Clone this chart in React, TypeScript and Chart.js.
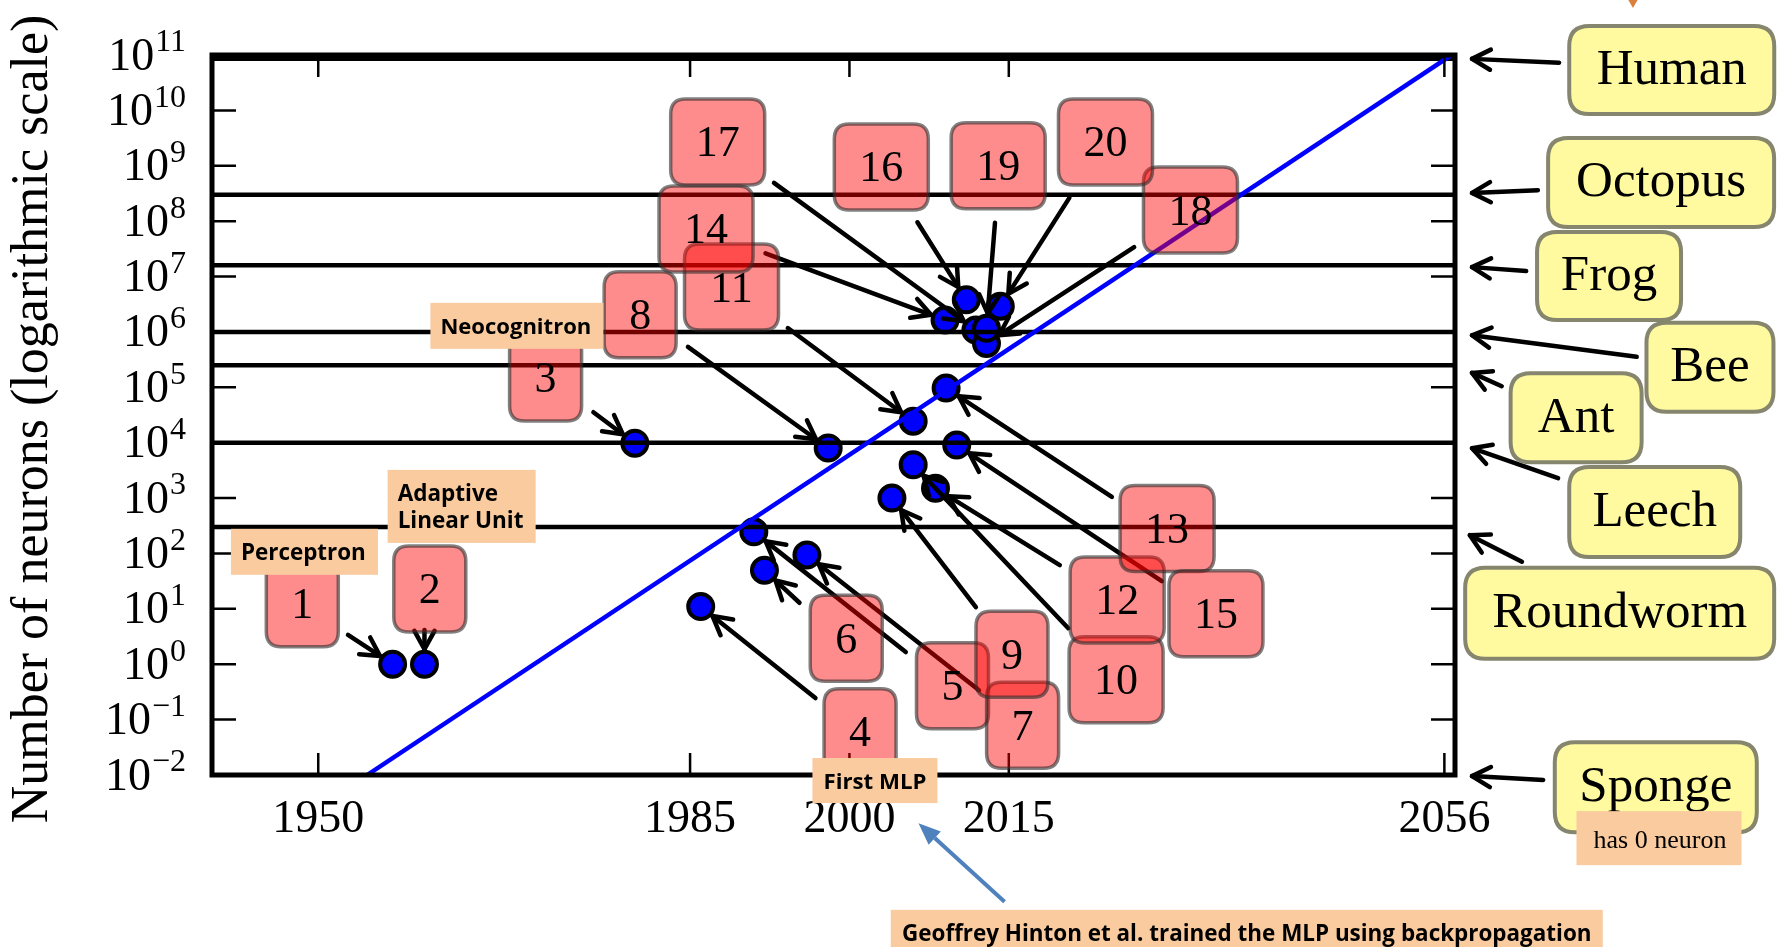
import React, { useEffect, useRef } from "react";
import { Chart, registerables } from "chart.js";

Chart.register(...registerables);

// ---------------- data ----------------
const NETWORK_IDS = [1, 2, 3, 4, 5, 6, 7, 8, 9, 10, 11, 12, 13, 14, 15, 16, 17, 18, 19, 20];
const NETWORK_YEARS = [1957, 1960, 1979.8, 1986, 1991, 1992, 1996, 1998, 2004, 2006, 2006, 2008.1, 2009.1, 2009, 2010.1, 2011, 2011.9, 2012.9, 2012.9, 2014.2];
const NETWORK_NEURONS = [1, 1, 9.8e3, 11, 246, 50, 94, 8.0e3, 1.0e3, 4.0e3, 2.45e4, 1.5e3, 9.7e4, 1.64e6, 9.1e3, 3.8e6, 1.08e6, 6.2e5, 1.16e6, 2.9e6];

const ANIMAL_NAMES = ["Human", "Octopus", "Frog", "Bee", "Ant", "Leech", "Roundworm", "Sponge"];
// Sponge has 0 neurons: no reference line, its arrow points at the axis floor
const ANIMAL_NEURONS = [8.6e10, 3e8, 1.6e7, 1e6, 2.5e5, 1e4, 302];

const X_TICKS = [1950, 1985, 2000, 2015, 2056];
const Y_TICK_EXPONENTS = [-2, -1, 0, 1, 2, 3, 4, 5, 6, 7, 8, 9, 10, 11];
const X_MIN = 1940;
const X_MAX = 2057;
const Y_MIN = 1e-2;
const Y_MAX = 1e11;

const TREND_YEARS = [1954.6, 2057];
const TREND_NEURONS = [1e-2, 1.1e11];

const Y_TITLE = "Number of neurons (logarithmic scale)";

// ---------------- annotation layout (data space: [year, log10(neurons)]) ----------------
const LABEL_POS: [number, number][] = [
  [1948.5, 1.09], [1960.5, 1.36], [1971.4, 5.17], [2001.0, -1.22], [2009.7, -0.39],
  [1999.7, 0.47], [2016.3, -1.1], [1980.3, 6.31], [2015.3, 0.18], [2025.1, -0.28],
  [1988.9, 6.81], [2025.2, 1.16], [2029.9, 2.45], [1986.5, 7.86], [2034.5, 0.91],
  [2003.0, 8.98], [1987.6, 9.43], [2032.1, 8.2], [2014.0, 9.0], [2024.1, 9.43],
];
const ARROW_TAIL: [number, number][] = [
  [1952.8, 0.53], [1960.0, 0.62], [1975.9, 4.55], [1996.8, -0.61], [2005.3, 0.22],
  [1995.3, 1.11], [2012.2, -0.47], [1984.8, 5.73], [2011.9, 1.03], [2020.6, 0.65],
  [1994.2, 6.07], [2019.8, 1.79], [2024.7, 3.02], [1992.1, 7.42], [2029.4, 1.5],
  [2006.4, 7.98], [1992.9, 8.69], [2026.8, 7.53], [2013.7, 7.97], [2020.7, 8.42],
];

const ANIMAL_LABEL_POS: [number, number][] = [
  [2077.4, 10.73], [2076.4, 8.7], [2071.5, 7.01], [2081.0, 5.36],
  [2068.4, 4.45], [2075.8, 2.75], [2072.5, 0.92], [2075.9, -2.22],
];
const ANIMAL_BOX_SIZE: [number, number][] = [
  [205, 88], [226, 89], [144, 88], [127, 89], [131, 89], [171, 90], [309, 91], [202, 90],
];
const ANIMAL_ARROW_TAIL: [number, number][] = [
  [2066.8, 10.86], [2064.8, 8.56], [2063.7, 7.1], [2074.1, 5.55],
  [2061.4, 5.02], [2066.7, 3.36], [2063.3, 1.85], [2065.3, -2.09],
];
const ANIMAL_ARROW_TIP: [number, number][] = [
  [2058.6, 10.93], [2058.6, 8.51], [2058.6, 7.17], [2058.6, 5.94],
  [2058.6, 5.26], [2058.6, 3.9], [2058.4, 2.33], [2058.6, -2.02],
];

type Callout = { lines: string[]; pos: [number, number]; w: number; h: number; align: "left" | "center" };
const CALLOUTS: Callout[] = [
  { lines: ["Perceptron"], pos: [1948.7, 2.03], w: 147, h: 46, align: "left" },
  { lines: ["Adaptive", "Linear Unit"], pos: [1963.5, 2.85], w: 148, h: 73, align: "left" },
  { lines: ["Neocognitron"], pos: [1968.7, 6.11], w: 173, h: 46, align: "left" },
  { lines: ["First MLP"], pos: [2002.4, -2.1], w: 125, h: 45, align: "center" },
  { lines: ["Geoffrey Hinton et al. trained the MLP using backpropagation"], pos: [2037.4, -4.85], w: 712, h: 46, align: "center" },
];
const SPONGE_NOTE = "has 0 neuron";
const SPONGE_NOTE_POS: [number, number] = [2076.2, -3.14];
const HINTON_ARROW_TAIL: [number, number] = [2014.6, -4.29];
const HINTON_ARROW_TIP: [number, number] = [2006.5, -2.87];
const TOP_ARROW_TIP: [number, number] = [2073.75, 11.85];

const SERIF = '"Liberation Serif", "Times New Roman", serif';
const SANS = '"Open Sans", "Noto Sans", sans-serif';

function rr(ctx: CanvasRenderingContext2D, x: number, y: number, w: number, h: number, r: number) {
  ctx.beginPath();
  ctx.moveTo(x + r, y);
  ctx.lineTo(x + w - r, y);
  ctx.quadraticCurveTo(x + w, y, x + w, y + r);
  ctx.lineTo(x + w, y + h - r);
  ctx.quadraticCurveTo(x + w, y + h, x + w - r, y + h);
  ctx.lineTo(x + r, y + h);
  ctx.quadraticCurveTo(x, y + h, x, y + h - r);
  ctx.lineTo(x, y + r);
  ctx.quadraticCurveTo(x, y, x + r, y);
  ctx.closePath();
}

function arrow(ctx: CanvasRenderingContext2D, x1: number, y1: number, x2: number, y2: number, shrink: number) {
  const dx = x2 - x1, dy = y2 - y1;
  const d = Math.hypot(dx, dy);
  const tx = x2 - (dx / d) * shrink, ty = y2 - (dy / d) * shrink;
  ctx.beginPath();
  ctx.moveTo(x1, y1);
  ctx.lineTo(tx, ty);
  ctx.stroke();
  const back = Math.atan2(y1 - y2, x1 - x2);
  const len = 21, spread = 0.5;
  ctx.beginPath();
  ctx.moveTo(tx + len * Math.cos(back + spread), ty + len * Math.sin(back + spread));
  ctx.lineTo(tx, ty);
  ctx.lineTo(tx + len * Math.cos(back - spread), ty + len * Math.sin(back - spread));
  ctx.stroke();
}

const overlayPlugin = {
  id: "neuronOverlay",
  afterDatasetsDraw(chart: any) {
    const ctx: CanvasRenderingContext2D = chart.ctx;
    const xs = chart.scales.x;
    const ys = chart.scales.y;
    const px = (v: number) => xs.getPixelForValue(v);
    const py = (v: number) => ys.getPixelForValue(v);
    const pl = (lg: number) => ys.getPixelForValue(Math.pow(10, lg));
    const { left, right, top, bottom } = chart.chartArea;

    ctx.save();
    ctx.lineJoin = "round";
    ctx.lineCap = "round";

    // inward ticks
    ctx.strokeStyle = "#000";
    ctx.lineWidth = 2.5;
    ctx.lineCap = "butt";
    Y_TICK_EXPONENTS.forEach((e) => {
      const y = py(Math.pow(10, e));
      ctx.beginPath();
      ctx.moveTo(left, y); ctx.lineTo(left + 24, y);
      ctx.moveTo(right, y); ctx.lineTo(right - 24, y);
      ctx.stroke();
    });
    X_TICKS.forEach((t) => {
      const x = px(t);
      ctx.beginPath();
      ctx.moveTo(x, bottom); ctx.lineTo(x, bottom - 22);
      ctx.moveTo(x, top); ctx.lineTo(x, top + 22);
      ctx.stroke();
    });

    // arrows from numbered labels to networks
    ctx.lineCap = "round";
    ctx.lineWidth = 4.5;
    NETWORK_IDS.forEach((id, i) => {
      const [tx, tl] = ARROW_TAIL[i];
      arrow(ctx, px(tx), pl(tl), px(NETWORK_YEARS[i]), py(NETWORK_NEURONS[i]), 15);
    });

    // numbered label boxes
    NETWORK_IDS.forEach((id, i) => {
      const [bx, bl] = LABEL_POS[i];
      const cx = px(bx), cy = pl(bl);
      const w = id >= 10 ? 94 : 72, h = 86;
      rr(ctx, cx - w / 2, cy - h / 2, w, h, 15);
      ctx.fillStyle = "rgba(255,0,0,0.45)";
      ctx.fill();
      ctx.lineWidth = 3.5;
      ctx.strokeStyle = "rgba(45,45,45,0.6)";
      ctx.stroke();
      ctx.fillStyle = "#000";
      ctx.font = `44px ${SERIF}`;
      ctx.textAlign = "center";
      ctx.textBaseline = "alphabetic";
      ctx.fillText(String(id), cx, cy + 14.5);
    });

    // frame
    ctx.strokeStyle = "#000";
    ctx.lineWidth = 5;
    ctx.lineJoin = "miter";
    ctx.strokeRect(left, top, right - left, bottom - top);
    ctx.lineJoin = "round";

    // y tick labels 10^e
    ctx.fillStyle = "#000";
    ctx.textAlign = "right";
    ctx.textBaseline = "alphabetic";
    Y_TICK_EXPONENTS.forEach((e) => {
      const y = py(Math.pow(10, e));
      const expStr = e < 0 ? "\u2212" + String(-e) : String(e);
      ctx.font = `32px ${SERIF}`;
      const ew = ctx.measureText(expStr).width;
      ctx.fillText(expStr, left - 26, y - 3.6);
      ctx.font = `46px ${SERIF}`;
      ctx.fillText("10", left - 27 - ew, y + 14.5);
    });

    // x tick labels
    ctx.textAlign = "center";
    ctx.font = `46px ${SERIF}`;
    X_TICKS.forEach((t) => {
      ctx.fillText(String(t), px(t), bottom + 57);
    });

    // y axis title
    ctx.save();
    ctx.translate(left - 165, (top + bottom) / 2 + 4);
    ctx.rotate(-Math.PI / 2);
    ctx.font = `52px ${SERIF}`;
    ctx.textAlign = "center";
    ctx.fillText(Y_TITLE, 0, 0);
    ctx.restore();

    // animal arrows
    ctx.strokeStyle = "#000";
    ctx.lineWidth = 4.5;
    ANIMAL_NAMES.forEach((n, i) => {
      const [ax, al] = ANIMAL_ARROW_TAIL[i];
      const [bx, bl] = ANIMAL_ARROW_TIP[i];
      arrow(ctx, px(ax), pl(al), px(bx), pl(bl), 0);
    });

    // animal boxes
    ANIMAL_NAMES.forEach((n, i) => {
      const [bx, bl] = ANIMAL_LABEL_POS[i];
      const [w, h] = ANIMAL_BOX_SIZE[i];
      const cx = px(bx), cy = pl(bl);
      rr(ctx, cx - w / 2, cy - h / 2, w, h, 20);
      ctx.fillStyle = "#fffa9f";
      ctx.fill();
      ctx.lineWidth = 4;
      ctx.strokeStyle = "#86866e";
      ctx.stroke();
      ctx.fillStyle = "#000";
      ctx.font = `51px ${SERIF}`;
      ctx.textAlign = "center";
      ctx.fillText(n, cx, cy + 14);
    });

    // peach callouts
    CALLOUTS.forEach((c) => {
      const cx = px(c.pos[0]), cy = pl(c.pos[1]);
      ctx.fillStyle = "#f9cb9f";
      ctx.fillRect(cx - c.w / 2, cy - c.h / 2, c.w, c.h);
      ctx.fillStyle = "#000";
      let size = 22.5;
      ctx.font = `700 ${size}px ${SANS}`;
      const maxW = c.w - 22;
      const widest = Math.max(...c.lines.map((l) => ctx.measureText(l).width));
      if (widest > maxW) {
        size = (size * maxW) / widest;
        ctx.font = `700 ${size}px ${SANS}`;
      }
      const lh = 27;
      const startY = cy - ((c.lines.length - 1) * lh) / 2;
      c.lines.forEach((l, k) => {
        if (c.align === "left") {
          ctx.textAlign = "left";
          ctx.fillText(l, cx - c.w / 2 + 10, startY + k * lh + 8);
        } else {
          ctx.textAlign = "center";
          ctx.fillText(l, cx, startY + k * lh + 8);
        }
      });
    });

    // sponge note
    {
      const cx = px(SPONGE_NOTE_POS[0]), cy = pl(SPONGE_NOTE_POS[1]);
      ctx.fillStyle = "#f9cb9f";
      ctx.fillRect(cx - 82.5, cy - 27, 165, 54);
      ctx.fillStyle = "#000";
      ctx.font = `26px ${SERIF}`;
      ctx.textAlign = "center";
      ctx.fillText(SPONGE_NOTE, cx + 1, cy + 10);
    }

    // blue callout arrow
    {
      const x1 = px(HINTON_ARROW_TAIL[0]), y1 = pl(HINTON_ARROW_TAIL[1]);
      const x2 = px(HINTON_ARROW_TIP[0]), y2 = pl(HINTON_ARROW_TIP[1]);
      const ang = Math.atan2(y2 - y1, x2 - x1);
      const hl = 22, hw = 9;
      const bx = x2 - hl * Math.cos(ang), by = y2 - hl * Math.sin(ang);
      ctx.strokeStyle = "#4f81bd";
      ctx.fillStyle = "#4f81bd";
      ctx.lineWidth = 4;
      ctx.lineCap = "butt";
      ctx.beginPath();
      ctx.moveTo(x1, y1);
      ctx.lineTo(bx, by);
      ctx.stroke();
      ctx.beginPath();
      ctx.moveTo(x2, y2);
      ctx.lineTo(bx + hw * Math.sin(ang), by - hw * Math.cos(ang));
      ctx.lineTo(bx - hw * Math.sin(ang), by + hw * Math.cos(ang));
      ctx.closePath();
      ctx.fill();
    }

    // orange arrow tip at the top edge
    {
      const x = px(TOP_ARROW_TIP[0]), y = pl(TOP_ARROW_TIP[1]);
      ctx.fillStyle = "#d9803f";
      ctx.beginPath();
      ctx.moveTo(x, y);
      ctx.lineTo(x - 7, y - 12);
      ctx.lineTo(x + 7, y - 12);
      ctx.closePath();
      ctx.fill();
    }

    ctx.restore();
  },
};

export default function App() {
  const canvasRef = useRef<HTMLCanvasElement | null>(null);

  useEffect(() => {
    document.body.style.margin = "0";
    document.body.style.overflow = "hidden";
    const canvas = canvasRef.current;
    if (!canvas) return;

    const lineSets = ANIMAL_NEURONS.map((v, i) => ({
      type: "line" as const,
      label: ANIMAL_NAMES[i],
      data: [{ x: X_MIN, y: v }, { x: X_MAX, y: v }],
      borderColor: "#000",
      borderWidth: 4.5,
      pointRadius: 0,
      order: 1,
    }));

    const chart = new Chart(canvas, {
      type: "scatter",
      data: {
        datasets: [
          {
            type: "scatter" as const,
            label: "networks",
            data: NETWORK_YEARS.map((x, i) => ({ x, y: NETWORK_NEURONS[i] })),
            backgroundColor: "#0000ff",
            borderColor: "#000",
            pointRadius: 12.5,
            pointBorderWidth: 4,
            order: 5,
            clip: false,
          } as any,
          ...lineSets,
          {
            type: "line" as const,
            label: "trend",
            data: TREND_YEARS.map((x, i) => ({ x, y: TREND_NEURONS[i] })),
            borderColor: "#0000ff",
            borderWidth: 4.5,
            pointRadius: 0,
            order: 0,
          },
        ],
      },
      options: {
        animation: false,
        responsive: false,
        layout: { padding: { left: 212, right: 332, top: 55, bottom: 172 } },
        plugins: { legend: { display: false }, tooltip: { enabled: false } },
        scales: {
          x: { type: "linear", min: X_MIN, max: X_MAX, display: false },
          y: { type: "logarithmic", min: Y_MIN, max: Y_MAX, display: false },
        },
      },
      plugins: [overlayPlugin],
    });

    return () => chart.destroy();
  }, []);

  return (
    <div style={{ position: "absolute", left: 0, top: 0, width: 1787, height: 947, background: "#fff" }}>
      <canvas ref={canvasRef} width={1787} height={947} style={{ display: "block", width: 1787, height: 947 }} />
    </div>
  );
}
